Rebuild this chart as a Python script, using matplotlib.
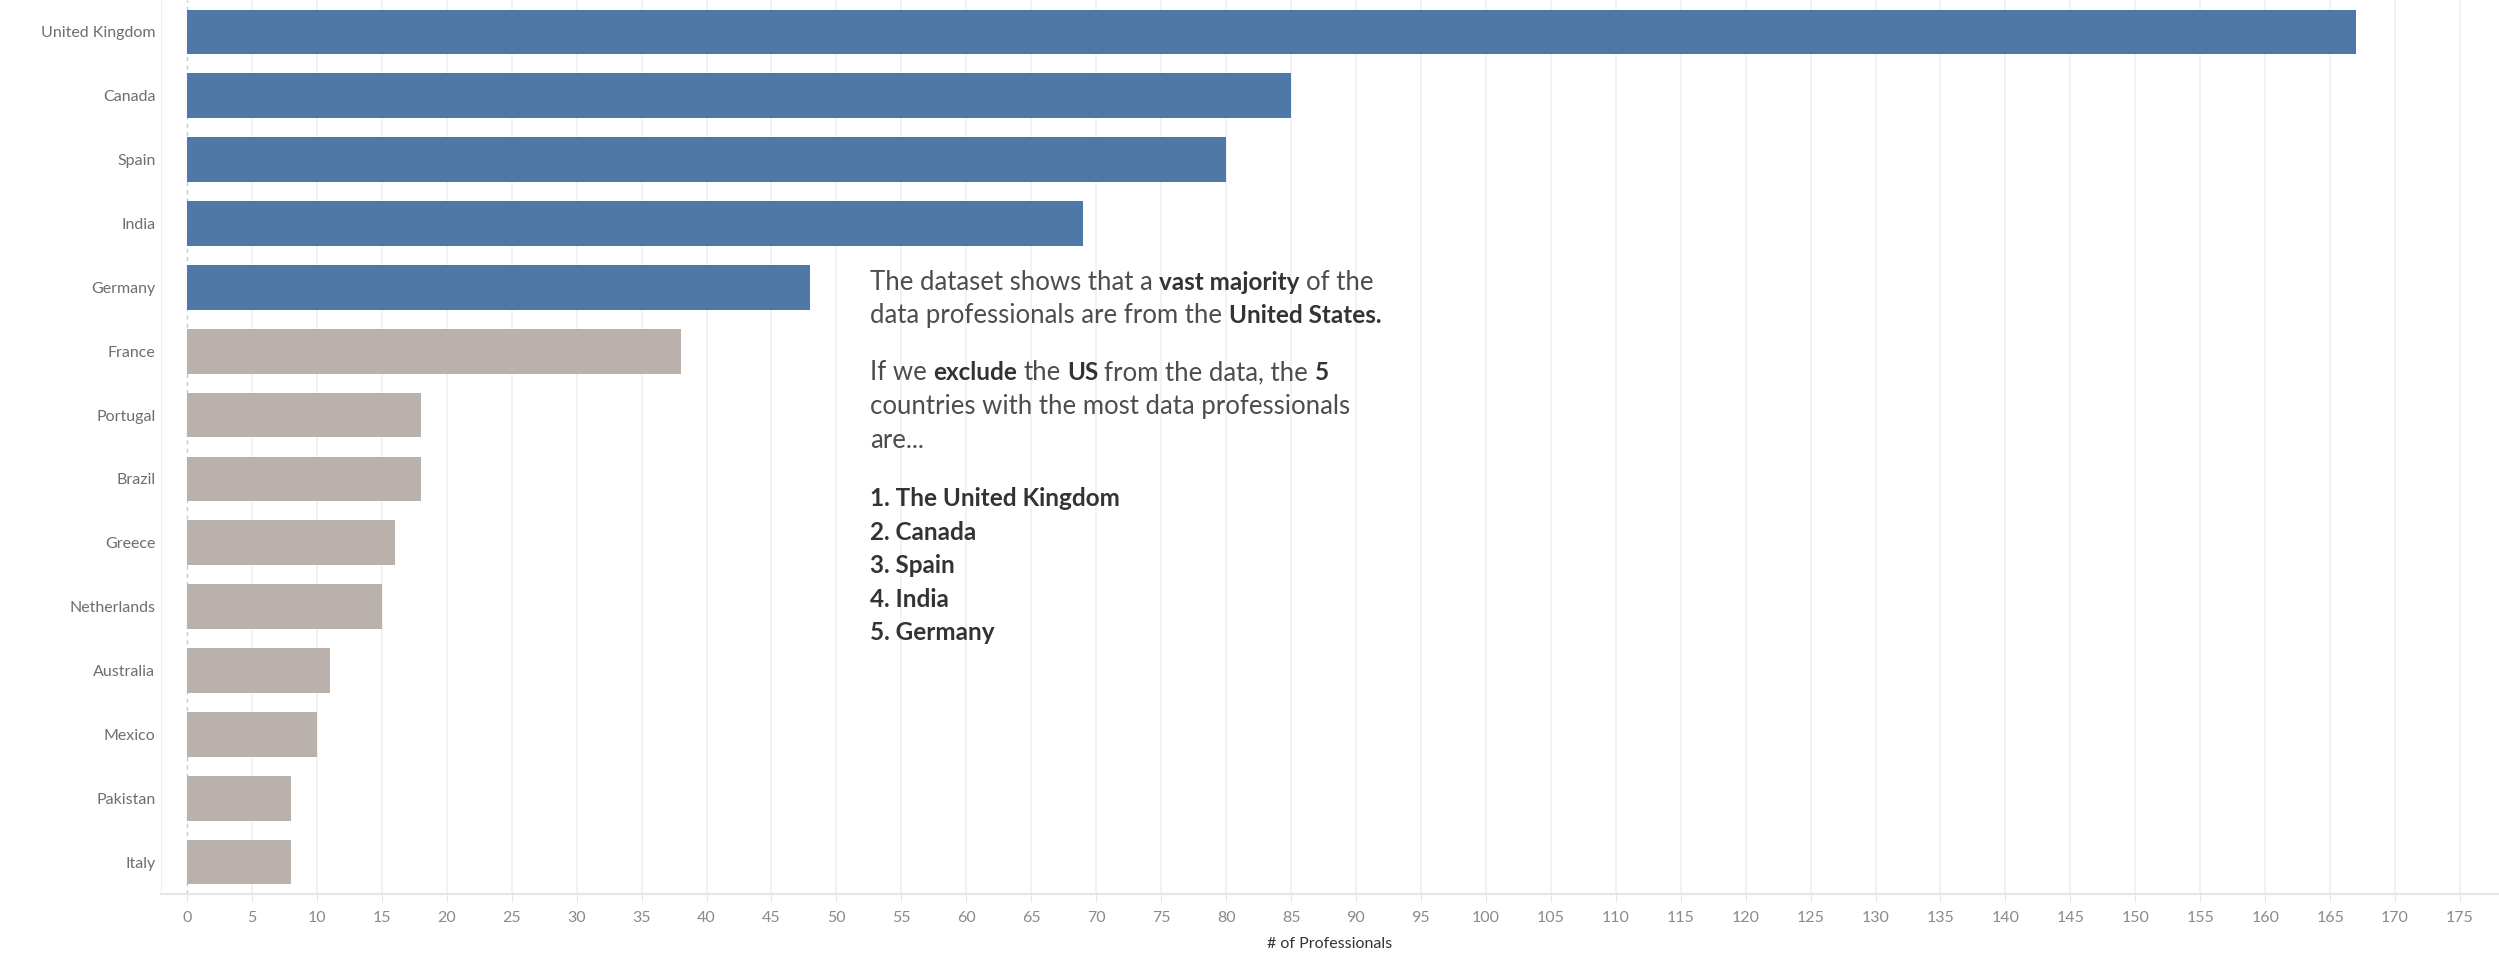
import matplotlib
matplotlib.use("Agg")
import matplotlib.pyplot as plt

countries = ["United Kingdom", "Canada", "Spain", "India", "Germany", "France", "Portugal",
             "Brazil", "Greece", "Netherlands", "Australia", "Mexico", "Pakistan", "Italy"]
counts = [167, 85, 80, 69, 48, 38, 18, 18, 16, 15, 11, 10, 8, 8]
top_n = 5
x_ticks = list(range(0, 180, 5))

BLUE = "#4e79a7"
GREY = "#bab0ac"
FONT = "Lato"
SIZE_REG, SIZE_BOLD = 18.5, 17.5

note_lines = [
    [("The dataset shows that a", False), ("vast majority", True), ("of the", False)],
    [("data professionals are from the", False), ("United States.", True)],
    [("If we", False), ("exclude", True), ("the", False), ("US", True), ("from the data, the", False), ("5", True)],
    [("countries with the most data professionals", False)],
    [("are...", False)],
    [("1. The United Kingdom", True)],
    [("2. Canada", True)],
    [("3. Spain", True)],
    [("4. India", True)],
    [("5. Germany", True)],
]
note_baselines = [290, 323, 380, 414, 448, 506, 540, 573, 607, 640]

W, H = 2499, 964
fig = plt.figure(figsize=(W / 100, H / 100), dpi=100)
ax = fig.add_axes([161 / W, 70 / H, 1 - 161 / W, 1 - 70 / H])

colors = [BLUE if i < top_n else GREY for i in range(len(countries))]
ax.barh(range(len(countries)), counts, height=0.7, color=colors, zorder=3)

ax.set_ylim(len(countries) - 0.5, -0.5)
ax.set_xlim(-2, 178)
ax.set_yticks(range(len(countries)))
ax.set_yticklabels(countries, fontsize=11.5, color="#6e6e6e", family=FONT)
ax.set_xticks(x_ticks)
ax.set_xticklabels([str(t) for t in x_ticks], fontsize=11.5, color="#8a8a8a", family=FONT)
ax.tick_params(axis="y", length=0, pad=4)
ax.tick_params(axis="x", length=6, color="#e6e6e6", pad=6)

for t in x_ticks[1:]:
    ax.axvline(t, color="#f0f0f0", lw=1.2, zorder=1)
ax.axvline(0, color="#c8c8c8", lw=1, ls=(0, (3, 3)), zorder=2)

for side in ["top", "right"]:
    ax.spines[side].set_visible(False)
ax.spines["left"].set_color("#eeeeee")
ax.spines["bottom"].set_color("#e6e6e6")
ax.spines["bottom"].set_linewidth(1.5)

ax.set_xlabel("# of Professionals", fontsize=11.5, color="#333333", family=FONT, labelpad=9)

# annotation: place word groups one after another, mixing weights
renderer = fig.canvas.get_renderer()


def ink_width(s, bold):
    t = fig.text(0, 0, s, fontsize=SIZE_BOLD if bold else SIZE_REG, family=FONT,
                 fontweight="bold" if bold else "normal")
    w = t.get_window_extent(renderer).width
    t.remove()
    return w


def advance(s, bold):
    # width of s plus one trailing space, without ink-bbox effects
    return ink_width("x" + s + " x", bold) - ink_width("xx", bold)


x0 = 870
for parts, base in zip(note_lines, note_baselines):
    x = x0
    for s, bold in parts:
        fig.text(x / W, 1 - base / H, s, fontsize=SIZE_BOLD if bold else SIZE_REG, family=FONT,
                 va="baseline", fontweight="bold" if bold else "normal",
                 color="#333333" if bold else "#4d4d4d")
        x += advance(s, bold)

fig.savefig("out.png", dpi=100, facecolor="white")
